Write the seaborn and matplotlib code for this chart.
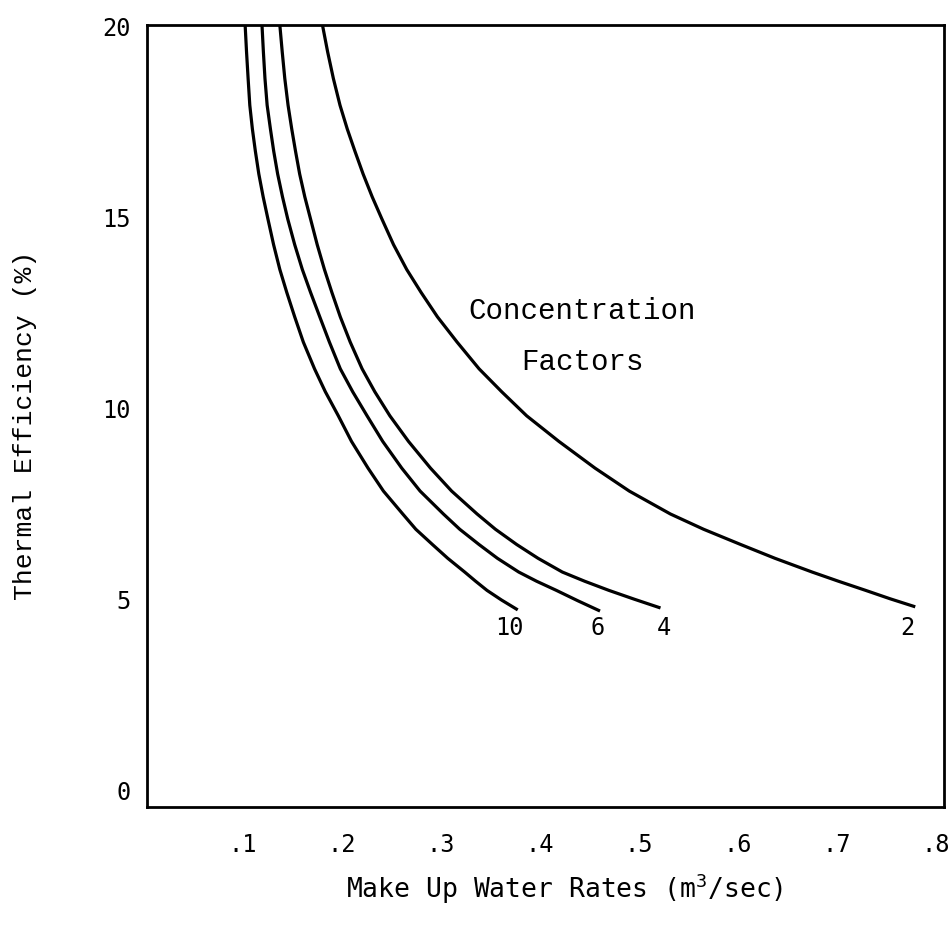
import matplotlib
matplotlib.use("Agg")
import matplotlib.pyplot as plt
import seaborn as sns
import pandas as pd

# ---- data ----
factors = ["10", "6", "4", "2"]

eff_cf10 = [20.0, 19.3, 18.6, 17.9, 17.28, 16.7, 16.1, 15.5, 14.92, 14.25, 13.6, 13.0, 12.36, 11.7, 11.0,
            10.4, 9.77, 9.1, 8.4, 7.8, 7.2, 6.8, 6.4, 6.04, 5.68, 5.44, 5.2, 4.95, 4.69]
rate_cf10 = [0.103, 0.1044, 0.106, 0.1077, 0.1103, 0.1133, 0.1168, 0.1212, 0.126, 0.1317, 0.138, 0.145,
             0.153, 0.1617, 0.173, 0.1839, 0.197, 0.2103, 0.227, 0.2425, 0.262, 0.2752, 0.292, 0.3074,
             0.3245, 0.3355, 0.3470, 0.3615, 0.378]

eff_cf6 = [20.0, 19.3, 18.6, 17.9, 17.28, 16.7, 16.1, 15.5, 14.92, 14.25, 13.6, 13.0, 12.36, 11.7, 11.0,
           10.4, 9.77, 9.1, 8.4, 7.8, 7.2, 6.8, 6.4, 6.04, 5.68, 5.44, 5.2, 4.93, 4.66]
rate_cf6 = [0.120, 0.1214, 0.123, 0.1252, 0.1285, 0.1318, 0.1358, 0.1407, 0.146, 0.1530, 0.1607, 0.1690,
            0.1783, 0.1880, 0.1990, 0.2115, 0.2260, 0.2418, 0.261, 0.2795, 0.303, 0.3195, 0.339, 0.3575,
            0.379, 0.397, 0.417, 0.4385, 0.461]

eff_cf4 = [20.0, 19.3, 18.6, 17.9, 17.28, 16.7, 16.1, 15.5, 14.92, 14.25, 13.6, 13.0, 12.36, 11.7, 11.0,
           10.4, 9.77, 9.1, 8.4, 7.8, 7.2, 6.8, 6.4, 6.04, 5.68, 5.44, 5.2, 4.97, 4.74]
rate_cf4 = [0.138, 0.1404, 0.143, 0.1463, 0.150, 0.1538, 0.158, 0.1632, 0.169, 0.1757, 0.183, 0.1905,
            0.199, 0.209, 0.221, 0.2338, 0.249, 0.2678, 0.290, 0.3113, 0.337, 0.3555, 0.377, 0.3985,
            0.423, 0.4455, 0.470, 0.4955, 0.522]

eff_cf2 = [20.0, 19.3, 18.6, 17.9, 17.28, 16.7, 16.1, 15.5, 14.92, 14.25, 13.6, 13.0, 12.36, 11.7, 11.0,
           10.4, 9.77, 9.1, 8.4, 7.8, 7.2, 6.8, 6.4, 6.04, 5.68, 5.44, 5.2, 4.98, 4.77]
rate_cf2 = [0.181, 0.1862, 0.192, 0.1987, 0.206, 0.2137, 0.222, 0.2312, 0.241, 0.2527, 0.266, 0.2805,
            0.297, 0.3168, 0.339, 0.3618, 0.387, 0.4195, 0.456, 0.4905, 0.532, 0.5655, 0.603, 0.6375,
            0.675, 0.7015, 0.729, 0.7537, 0.779]

label_x = [0.370, 0.459, 0.525, 0.771]
label_y = 4.24

x_ticks = [0.1, 0.2, 0.3, 0.4, 0.5, 0.6, 0.7, 0.8]
x_ticklabels = [".1", ".2", ".3", ".4", ".5", ".6", ".7", ".8"]
y_ticks = [0, 5, 10, 15, 20]
y_ticklabels = ["0", "5", "10", "15", "20"]

rates = [rate_cf10, rate_cf6, rate_cf4, rate_cf2]
effs = [eff_cf10, eff_cf6, eff_cf4, eff_cf2]
df = pd.concat(
    [pd.DataFrame({"rate": r, "eff": e, "factor": f}) for r, e, f in zip(rates, effs, factors)],
    ignore_index=True,
)

sns.set_style("white")
plt.rcParams["font.family"] = ["DejaVu Sans Mono", "DejaVu Sans"]

W, H = 949, 937
fig = plt.figure(figsize=(W / 100, H / 100), dpi=100)
ax = fig.add_axes([147 / W, (H - 808) / H, 797 / W, 782 / H])

sns.lineplot(data=df, x="rate", y="eff", hue="factor", units="factor", estimator=None,
             palette={f: "black" for f in factors}, linewidth=2.3, legend=False, sort=False, ax=ax)
for ln in ax.lines:
    ln.set_solid_joinstyle("round")
    ln.set_solid_capstyle("butt")

for f, lx in zip(factors, label_x):
    ax.text(lx, label_y, f, ha="center", va="center", fontsize=17,
            family=["DejaVu Sans Mono"], color="black")

ax.text(0.443, 12.55, "Concentration", ha="center", va="center", fontsize=21,
        family=["Liberation Mono"], color="black")
ax.text(0.443, 11.2, "Factors", ha="center", va="center", fontsize=21,
        family=["Liberation Mono"], color="black")

ax.set_xlim(0.004, 0.808)
ax.set_ylim(-0.47, 20.0)
ax.set_xticks(x_ticks, labels=x_ticklabels)
ax.set_yticks(y_ticks, labels=y_ticklabels)
ax.tick_params(axis="x", length=0, pad=18, labelsize=17, labelcolor="black")
ax.tick_params(axis="y", length=0, pad=12, labelsize=17, labelcolor="black")

for s in ax.spines.values():
    s.set_visible(True)
    s.set_color("black")
    s.set_linewidth(2.0)

ax.set_xlabel("Make Up Water Rates ($\\mathregular{m^3}$/sec)", fontsize=19,
              family=["DejaVu Sans Mono"], color="black")
ax.xaxis.set_label_coords((565 - 147) / 797, (808 - 872) / 782)
ax.set_ylabel("Thermal Efficiency (%)", fontsize=19, family=["Liberation Mono"], color="black")
ax.yaxis.set_label_coords((37 - 147) / 797, (808 - 425) / 782)

fig.savefig("out.png", dpi=100, facecolor="white")
